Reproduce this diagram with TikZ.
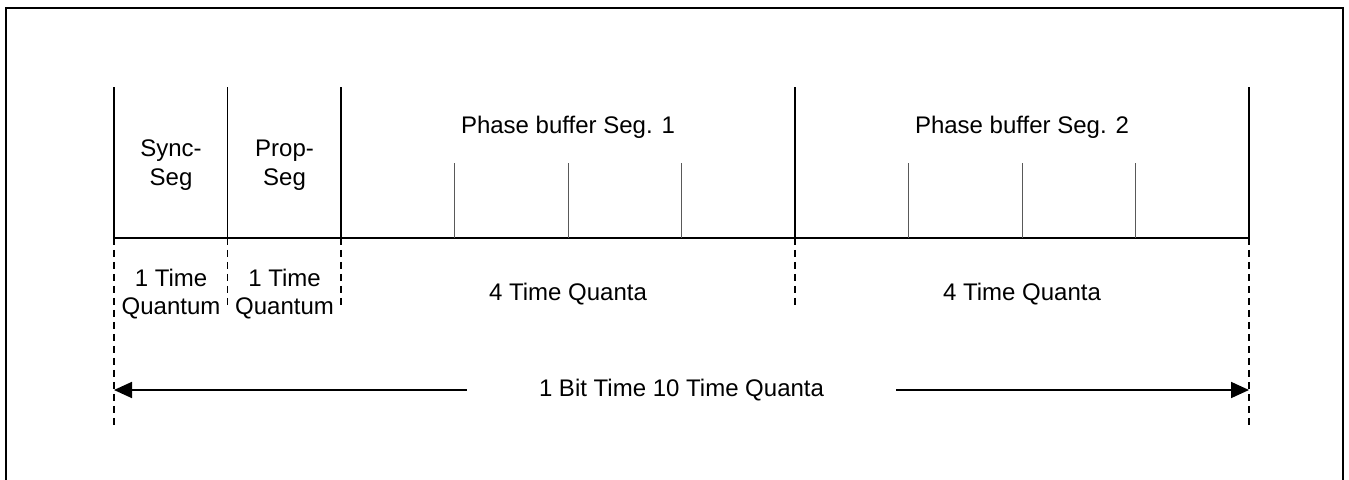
\documentclass[tikz,border=0pt]{standalone}
\usepackage{fontspec}
\setmainfont{Liberation Sans}
\usetikzlibrary{arrows.meta,positioning}

\begin{document}
\begin{tikzpicture}[
  x=0.5pt,
  y=-0.5pt,
  font=\fontsize{12}{14.4}\selectfont,
  >={Triangle[length=9pt,width=8pt]},
  frame/.style={line width=1.35pt, draw=black},
  major/.style={line width=0.9pt, draw=black},
  minor/.style={line width=0.5pt, draw=black!65},
  guide/.style={line width=0.9pt, dash pattern=on 3.5pt off 2.5pt, draw=black},
  span/.style={->, line width=0.9pt, draw=black},
  seglabel/.style={align=center, inner sep=0pt}
]

\useasboundingbox (0,0) rectangle (1349,480);

% Outer frame, open at the lower page edge.
\draw[frame] (6,480) -- (6,8) -- (1343,8) -- (1343,480);

% Quantum grid: eleven boundaries on the time line.
\foreach \i in {0,...,10} {
  \coordinate (q\i) at ({114+113.5*\i},238);
}
\draw[major] (q0) -- (q10);
\foreach \i in {0,1,2,6,10} {
  \draw[major] (q\i) -- ++(0,-151);
}
\foreach \i in {3,4,5,7,8,9} {
  \draw[minor] (q\i) -- ++(0,-75);
}

% Dashed guides below the time line.
\foreach \i in {1,2,6} {
  \draw[guide] (q\i) -- ++(0,70);
}
\foreach \i in {0,10} {
  \draw[guide] (q\i) -- ++(0,190);
}

% Segment names.
\node[seglabel] (sync) at (171,165) {Sync-\\Seg};
\node[seglabel] (prop) at (284.5,165) {Prop-\\Seg};
\node (phase1) at (568,127) {Phase buffer Seg. 1};
\node (phase2) at (1022,127) {Phase buffer Seg. 2};

% Segment lengths.
\node[seglabel] (len1) at (171,294) {1 Time\\Quantum};
\node[seglabel] (len2) at (284.5,294) {1 Time\\Quantum};
\node (len3) at (568,294) {4 Time Quanta};
\node (len4) at (1022,294) {4 Time Quanta};

% Whole bit time.
\coordinate (bitl) at (114,390);
\coordinate (bitr) at (1249,390);
\node[inner xsep=36pt] (bit) at (681.5,390) {1 Bit Time 10 Time Quanta};
\draw[span] (bit.west) -- (bitl);
\draw[span] (bit.east) -- (bitr);

\end{tikzpicture}
\end{document}
